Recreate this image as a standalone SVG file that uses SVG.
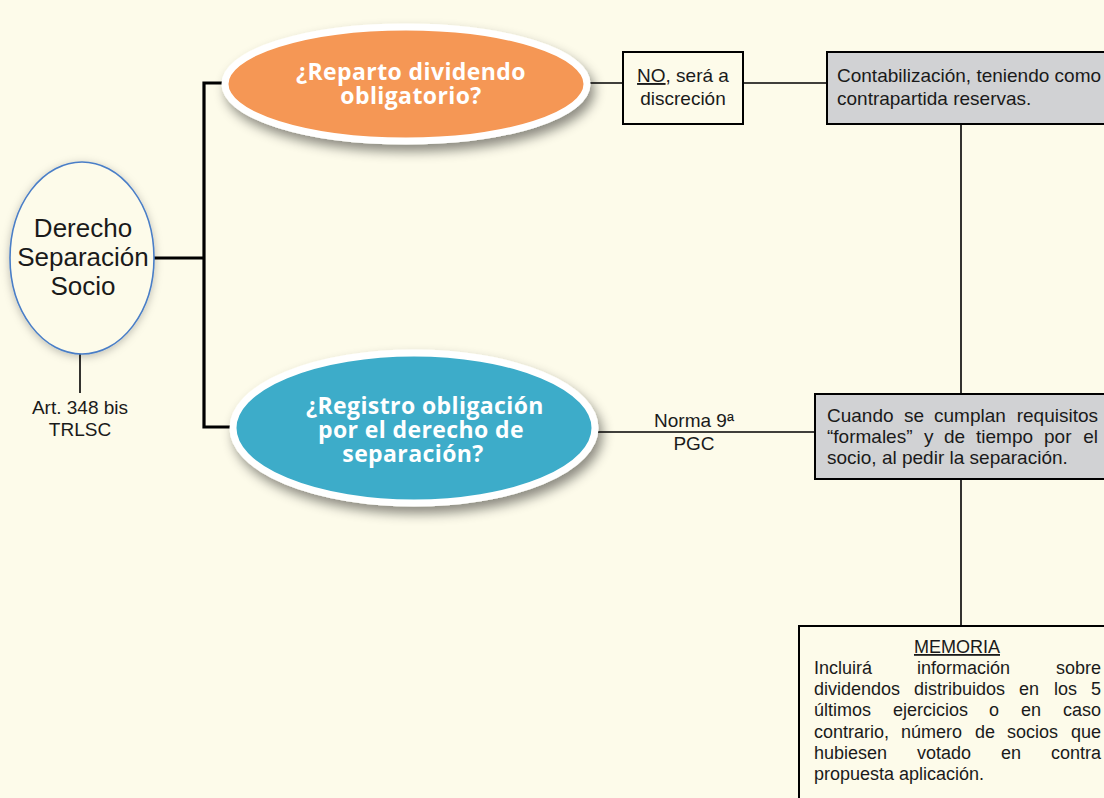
<svg xmlns="http://www.w3.org/2000/svg" width="1104" height="798" viewBox="0 0 1104 798">
<style>
.t{font-family:"Liberation Sans",Arial,sans-serif;fill:#1a1a1a}
.b{font-family:"Open Sans","Liberation Sans",sans-serif;font-weight:700;fill:#ffffff;font-size:23px;letter-spacing:0.4px;text-anchor:middle}
.ln{stroke:#000;stroke-width:1.6;fill:none}
.thick{stroke:#000;stroke-width:3.2;fill:none}
.box{stroke:#000;stroke-width:2}
</style>
<defs>
<filter id="sh" x="-20%" y="-30%" width="140%" height="170%">
<feDropShadow dx="4" dy="7" stdDeviation="6" flood-color="#000" flood-opacity="0.45"/>
</filter>
<filter id="sh2" x="-30%" y="-30%" width="160%" height="160%">
<feDropShadow dx="0" dy="2" stdDeviation="4" flood-color="#000" flood-opacity="0.25"/>
</filter>
</defs>
<rect width="1104" height="798" fill="#FDFBEA"/>
<g id="connectors">
<polyline class="thick" points="154,258 204,258"/>
<polyline class="thick" points="226,83 204,83 204,427 232,427"/>
<line class="ln" x1="80" y1="354" x2="80" y2="393"/>
<line class="ln" x1="586" y1="83" x2="623" y2="83"/>
<line class="ln" x1="743" y1="83" x2="827" y2="83"/>
<line class="ln" x1="596" y1="432" x2="815" y2="432"/>
<line class="ln" x1="961" y1="124" x2="961" y2="394"/>
<line class="ln" x1="961" y1="479" x2="961" y2="626"/>
</g>
<g id="derecho">
<ellipse cx="82" cy="258" rx="72" ry="96" fill="#FDFBEA" stroke="#4A7EC7" stroke-width="1.6" filter="url(#sh2)"/>
<text class="t" font-size="26" text-anchor="middle"><tspan x="83" y="237">Derecho</tspan><tspan x="83" y="266">Separación</tspan><tspan x="83" y="295">Socio</tspan></text>
</g>
<g id="art">
<text class="t" font-size="19" text-anchor="middle"><tspan x="80" y="414">Art. 348 bis</tspan><tspan x="80" y="436">TRLSC</tspan></text>
</g>
<g id="reparto">
<ellipse cx="406" cy="84" rx="181" ry="57" fill="#F59754" stroke="#ffffff" stroke-width="7" filter="url(#sh)"/>
<text class="b"><tspan x="411" y="80">¿Reparto dividendo</tspan><tspan x="411" y="104">obligatorio?</tspan></text>
</g>
<g id="registro">
<ellipse cx="414" cy="428" rx="181" ry="75" fill="#3DACC9" stroke="#ffffff" stroke-width="7" filter="url(#sh)"/>
<text class="b"><tspan x="425" y="414">¿Registro obligación</tspan><tspan x="421" y="438">por el derecho de</tspan><tspan x="413" y="462">separación?</tspan></text>
</g>
<g id="no">
<rect class="box" x="623" y="52" width="120" height="72" fill="#FDFBEA"/>
<text class="t" font-size="19" text-anchor="middle"><tspan x="683" y="82"><tspan text-decoration="underline">NO</tspan>, será a</tspan><tspan x="683" y="105">discreción</tspan></text>
</g>
<g id="contabilizacion">
<rect class="box" x="827" y="52" width="300" height="72" fill="#D1D2D4"/>
<text class="t" font-size="19"><tspan x="837" y="82">Contabilización, teniendo como</tspan><tspan x="837" y="105">contrapartida reservas.</tspan></text>
</g>
<g id="norma">
<text class="t" font-size="19" text-anchor="middle"><tspan x="694" y="427">Norma 9ª</tspan><tspan x="694" y="450">PGC</tspan></text>
</g>
<g id="cuando">
<rect class="box" x="815" y="394" width="300" height="85" fill="#D1D2D4"/>
<text class="t" font-size="19"><tspan x="827" y="422">Cuando</tspan><tspan x="904" y="422">se</tspan><tspan x="934" y="422">cumplan</tspan><tspan x="1098" y="422" text-anchor="end">requisitos</tspan></text>
<text class="t" font-size="19"><tspan x="827" y="443">“formales”</tspan><tspan x="924" y="443">y</tspan><tspan x="944" y="443">de</tspan><tspan x="976" y="443">tiempo</tspan><tspan x="1044" y="443">por</tspan><tspan x="1098" y="443" text-anchor="end">el</tspan></text>
<text class="t" font-size="19"><tspan x="827" y="464">socio, al pedir la separación.</tspan></text>
</g>
<g id="memoria">
<rect class="box" x="799" y="626" width="320" height="200" fill="#FDFBEA"/>
<text class="t" font-size="18" text-anchor="middle" x="957" y="653" text-decoration="underline">MEMORIA</text>
<text class="t" font-size="18"><tspan x="814" y="674">Incluirá</tspan><tspan x="917" y="674">información</tspan><tspan x="1101" y="674" text-anchor="end">sobre</tspan></text>
<text class="t" font-size="18"><tspan x="814" y="695">dividendos</tspan><tspan x="914" y="695">distribuidos</tspan><tspan x="1019" y="695">en</tspan><tspan x="1054" y="695">los</tspan><tspan x="1101" y="695" text-anchor="end">5</tspan></text>
<text class="t" font-size="18"><tspan x="814" y="716">últimos</tspan><tspan x="893" y="716">ejercicios</tspan><tspan x="989" y="716">o</tspan><tspan x="1021" y="716">en</tspan><tspan x="1101" y="716" text-anchor="end">caso</tspan></text>
<text class="t" font-size="18"><tspan x="814" y="738">contrario,</tspan><tspan x="901" y="738">número</tspan><tspan x="975" y="738">de</tspan><tspan x="1007" y="738">socios</tspan><tspan x="1101" y="738" text-anchor="end">que</tspan></text>
<text class="t" font-size="18"><tspan x="814" y="759">hubiesen</tspan><tspan x="917" y="759">votado</tspan><tspan x="1001" y="759">en</tspan><tspan x="1101" y="759" text-anchor="end">contra</tspan></text>
<text class="t" font-size="18"><tspan x="814" y="780">propuesta aplicación.</tspan></text>
</g>
</svg>
